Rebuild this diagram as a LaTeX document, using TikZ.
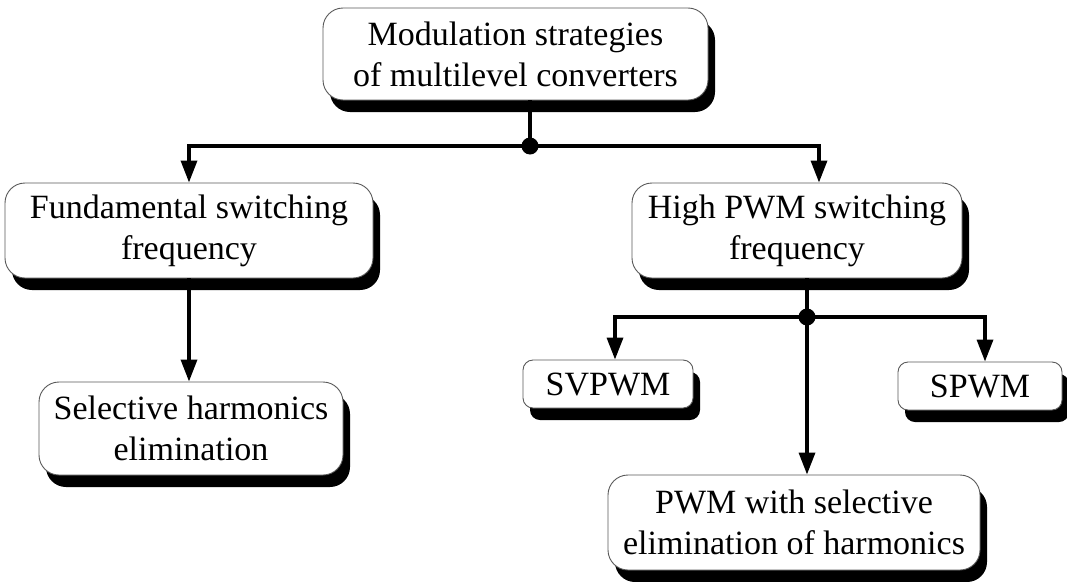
\documentclass[tikz,border=0pt]{standalone}
\usepackage{fontspec}
\setmainfont{Liberation Serif}
\usetikzlibrary{arrows.meta,shadows}
\begin{document}
\begin{tikzpicture}[x=1pt,y=-1pt,
  box/.style={draw=black!65, line width=0.9pt, fill=white, rounded corners=#1,
    align=center, inner sep=0pt, font=\fontsize{34}{41}\selectfont,
    general shadow={fill=black, shadow xshift=7pt, shadow yshift=-12pt}},
  box/.default=20pt,
  link/.style={line width=3.4pt, -{Triangle[length=22pt,width=16pt]}},
  wire/.style={line width=3.4pt},
  dot/.style={circle, fill=black, inner sep=0pt, minimum size=17pt}]
\useasboundingbox (0,0) rectangle (1067,581);

% tree nodes
\node[box, minimum width=385pt, minimum height=92pt] (top) at (515.5,54) {Modulation strategies\\of multilevel converters};
\node[box, minimum width=368pt, minimum height=95pt] (fund) at (189,230.5) {Fundamental switching\\frequency};
\node[box, minimum width=330pt, minimum height=95pt] (high) at (797,230.5) {High PWM switching\\frequency};
\node[box, minimum width=304pt, minimum height=93pt] (she) at (191,428.5) {Selective harmonics\\elimination};
\node[box=10pt, minimum width=170pt, minimum height=48pt] (svpwm) at (608,384) {SVPWM};
\node[box=10pt, minimum width=164pt, minimum height=48pt] (spwm) at (980,386) {SPWM};
\node[box, minimum width=372pt, minimum height=95pt] (pwmse) at (794,522.5) {PWM with selective\\elimination of harmonics};

% branch points
\coordinate (j1) at (530,146);
\coordinate (j2) at (807,317);

% connectors
\draw[wire] (j1 |- top.south) -- (j1);
\draw[link] (j1) -| (fund.north);
\draw[link] (j1) -| ([xshift=22pt]high.north);
\draw[link] (fund.south) -- (fund.south |- she.north);
\draw[wire] (j2 |- high.south) -- (j2);
\draw[link] (j2) -| ([xshift=7pt]svpwm.north);
\draw[link] (j2) -| ([xshift=5pt]spwm.north);
\draw[link] (j2) -- (j2 |- pwmse.north);

\node[dot] at (j1) {};
\node[dot] at (j2) {};
\end{tikzpicture}
\end{document}
